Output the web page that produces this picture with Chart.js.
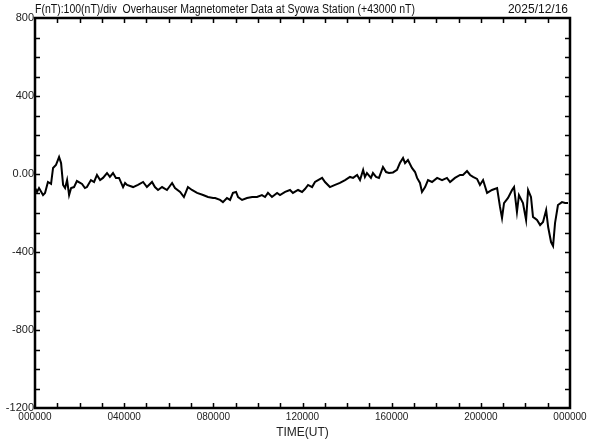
<!DOCTYPE html>
<html>
<head>
<meta charset="utf-8">
<script src="https://cdn.jsdelivr.net/npm/chart.js@4/dist/chart.umd.min.js"></script>
<style>
html, body { margin: 0; padding: 0; background: #fff; }
#wrap { width: 592px; height: 440px; }
</style>
</head>
<body>
<div id="wrap"><canvas id="magChart" width="592" height="440"></canvas></div>
<script>
// time in hours UT, F in nT (offset from 43000 nT)
const hours = [
0.00,0.09,0.18,0.36,0.45,0.58,0.72,0.81,0.94,1.08,1.17,1.26,1.35,1.44,1.53,1.62,1.75,1.88,
2.11,2.24,2.33,2.51,2.65,2.78,2.92,3.05,3.23,3.36,3.50,3.63,3.77,3.95,4.04,4.13,4.40,4.62,
4.85,5.02,5.25,5.38,5.52,5.70,5.92,6.15,6.28,6.51,6.68,6.86,7.04,7.27,7.54,7.76,7.99,8.08,
8.30,8.43,8.61,8.75,8.88,9.02,9.11,9.29,9.51,9.74,9.96,10.18,10.32,10.45,10.63,10.86,10.99,
11.22,11.44,11.57,11.80,11.98,12.11,12.25,12.43,12.56,12.70,12.88,13.01,13.23,13.46,13.68,
13.91,14.13,14.27,14.45,14.58,14.72,14.80,14.89,15.07,15.16,15.30,15.43,15.61,15.75,15.88,
16.06,16.24,16.37,16.51,16.60,16.73,16.91,17.05,17.14,17.27,17.36,17.50,17.63,17.81,18.04,
18.26,18.48,18.62,18.84,19.07,19.20,19.38,19.52,19.65,19.83,19.96,20.10,20.28,20.50,20.73,
20.86,20.95,21.04,21.22,21.40,21.49,21.62,21.71,21.89,22.03,22.12,22.25,22.34,22.52,22.66,
22.79,22.93,23.02,23.15,23.24,23.33,23.46,23.64,23.78,23.91
]
const fValues = [
-72,-92,-72,-108,-97,-41,-51,31,46,87,56,-56,-72,-31,-108,-72,-67,-36,
-51,-72,-67,-31,-41,-5,-31,-20,5,-15,5,-20,-20,-67,-46,-56,-67,-56,
-41,-67,-41,-67,-82,-67,-82,-46,-72,-92,-118,-67,-82,-97,-108,-118,-123,-123,
-133,-144,-123,-133,-97,-92,-118,-133,-123,-118,-118,-108,-118,-97,-118,-97,-108,
-92,-82,-97,-82,-92,-77,-56,-67,-41,-31,-20,-41,-67,-56,-46,
-31,-15,-20,-5,-31,21,-15,5,-20,5,-15,-20,36,10,5,
8,21,56,82,56,72,31,10,-20,-46,-92,-67,-31,-41,-20,
-31,-20,-41,-20,-5,-5,15,-5,-15,-25,-56,-31,-97,-82,-72,
-169,-226,-149,-123,-82,-67,-195,-108,-149,-236,-82,-118,-220,-236,-262,
-246,-185,-272,-349,-369,-251,-159,-144,-149,-149
]
const xMajor = [0, 4, 8, 12, 16, 20, 24]
const yMajor = [800, 400, 0, -400, -800, -1200]
const titleText = 'F(nT):100(nT)/div  Overhauser Magnetometer Data at Syowa Station (+43000 nT)'
const dateText = '2025/12/16'

const points = hours.map((h, k) => ({ x: h, y: fValues[k] }))

// frame, inward minor ticks and header text
const framePlugin = {
  id: 'frame',
  afterDraw(chart) {
    const c = chart.ctx
    const a = chart.chartArea
    const xs = chart.scales.x
    const ys = chart.scales.y
    c.save()
    c.strokeStyle = '#000'
    c.lineWidth = 1.5
    for (let h = 1; h < 24; h++) {
      const px = Math.round(xs.getPixelForValue(h)) + 0.5
      c.beginPath()
      c.moveTo(px, a.top); c.lineTo(px, a.top + 5)
      c.moveTo(px, a.bottom); c.lineTo(px, a.bottom - 5)
      c.stroke()
    }
    for (let v = -1100; v < 800; v += 100) {
      const py = Math.round(ys.getPixelForValue(v)) + 0.5
      c.beginPath()
      c.moveTo(a.left, py); c.lineTo(a.left + 5, py)
      c.moveTo(a.right, py); c.lineTo(a.right - 5, py)
      c.stroke()
    }
    c.lineWidth = 2.5
    c.strokeRect(a.left, a.top, a.right - a.left, a.bottom - a.top)
    c.fillStyle = '#111'
    c.font = "12px 'Liberation Sans Narrow', 'Liberation Sans', Arial"
    c.textBaseline = 'alphabetic'
    c.textAlign = 'left'
    c.fillText(titleText, 35, 13, 380)
    c.textAlign = 'right'
    c.fillText(dateText, 568, 13)
    c.restore()
  }
}

new Chart(document.getElementById('magChart'), {
  type: 'line',
  data: {
    datasets: [{
      data: points,
      borderColor: '#000',
      borderWidth: 2,
      pointRadius: 0,
      tension: 0,
      fill: false
    }]
  },
  options: {
    responsive: false,
    animation: false,
    layout: { padding: { top: 18, right: 22, left: 0, bottom: 0 } },
    plugins: { legend: { display: false }, tooltip: { enabled: false } },
    scales: {
      x: {
        type: 'linear',
        min: 0,
        max: 24,
        afterFit(s) { s.height = 32 },
        afterBuildTicks(s) { s.ticks = xMajor.map(v => ({ value: v })) },
        grid: { display: false, drawTicks: false },
        border: { display: false },
        ticks: {
          padding: 3,
          color: '#222',
          font: { family: "'Liberation Sans', Arial", size: 10 },
          maxRotation: 0,
          callback: v => String(v % 24).padStart(2, '0') + '0000'
        },
        title: {
          display: true,
          text: 'TIME(UT)',
          color: '#222',
          padding: 0,
          font: { family: "'Liberation Sans', Arial", size: 12 }
        }
      },
      y: {
        min: -1200,
        max: 800,
        afterFit(s) { s.width = 35 },
        afterBuildTicks(s) { s.ticks = yMajor.map(v => ({ value: v })) },
        grid: { display: false, drawTicks: false },
        border: { display: false },
        ticks: {
          padding: 1,
          color: '#222',
          font: { family: "'Liberation Sans', Arial", size: 11 },
          callback: v => v === 0 ? '0.00' : String(v)
        }
      }
    }
  },
  plugins: [framePlugin]
})
</script>
</body>
</html>
